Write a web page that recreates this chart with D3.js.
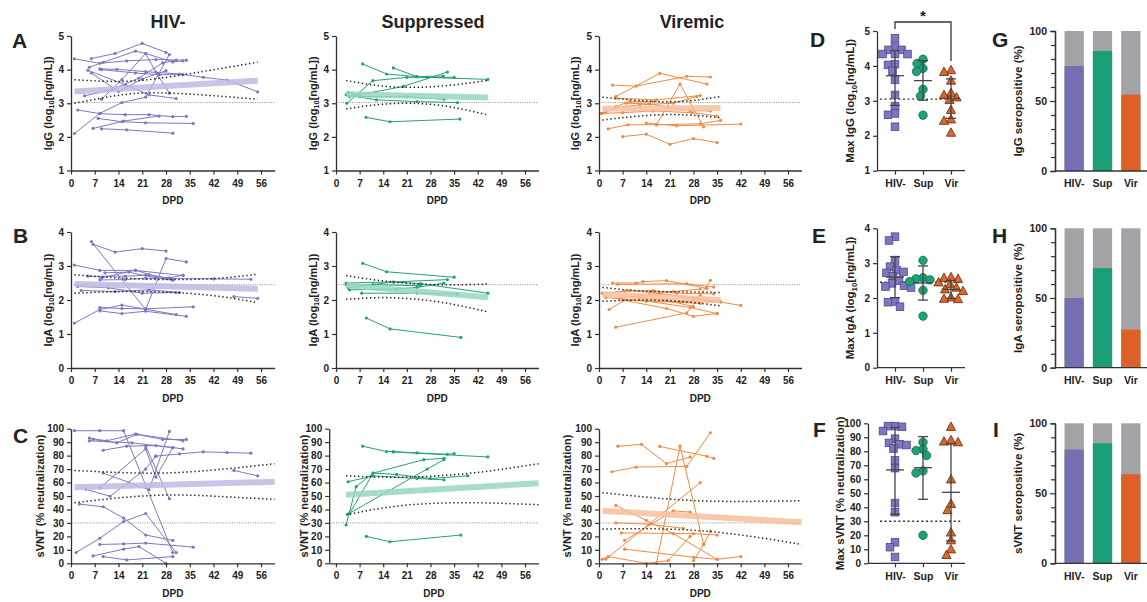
<!DOCTYPE html>
<html>
<head>
<meta charset="utf-8">
<script src="https://cdn.jsdelivr.net/npm/d3@7"></script>
<style>
  body { margin: 0; background: #fff; }
  svg text { font-family: "Liberation Sans", Arial, sans-serif; font-weight: bold; fill: #222; }
</style>
</head>
<body>
<svg id="chart" width="1147" height="602"></svg>
<script>
// ---- categories / ticks ----
const groups = ["HIV-", "Suppressed", "Viremic"];
const cats = ["HIV-", "Sup", "Vir"];
const dpdTicks = [0, 7, 14, 21, 28, 35, 42, 49, 56];
const iggTicks = [1, 2, 3, 4, 5];
const igaTicks = [0, 1, 2, 3, 4];
const svntTicks = [0, 10, 20, 30, 40, 50, 60, 70, 80, 90, 100];
const seroTicks = [0, 50, 100];
const seroMinor = [10, 20, 30, 40, 60, 70, 80, 90];

// cut-offs (dotted grey line)
const iggCut = 3.02, igaCut = 2.45, svntCut = 30;

// ---- IgG over time, [DPD, log10 ng/mL] per participant ----
const iggNeg = [
  [[6,4.33],[13,4.48],[21,4.78],[28,4.51]],
  [[5.4,4.07],[9.5,4.22],[19,4.55],[22,4.48],[30,4.23],[33,4.26]],
  [[1,4.32],[8.5,4.19],[16.4,4.26],[25,4.3],[34,4.28]],
  [[8.5,4.02],[13.5,4.01],[22,3.94],[32,3.87],[39,3.77],[46,3.69],[55,3.34]],
  [[5,3.98],[16,3.55],[23,3.25],[31,3.14]],
  [[9,3.12],[15,3.7],[22,4.48],[25,3.93],[29,3.3]],
  [[1,2.1],[8.5,2.7],[15,3.02],[22,3.18],[29,4.45]],
  [[2,2.8],[8.5,2.69],[16,2.66],[23,2.66],[30,2.6],[34,2.61]],
  [[8,2.55],[15,2.45],[22,2.42],[36,2.4]],
  [[6.5,2.25],[15.5,2.47],[26,2.62]],
  [[9,2.24],[16.4,2.21],[30,2.11]],
  [[4,3.22],[12,3.4],[20,3.75],[27,4.2],[31,4.28]],
  [[6,3.9],[14,3.35],[21,3.72],[28,3.97]],
  [[9,4.0],[19,3.9],[26,3.85],[33,3.85]]
];
const iggSup = [
  [[7.9,4.17],[15,3.87],[24,3.79],[31.8,3.81]],
  [[17,4.05],[24,3.79],[27,3.77],[35,3.77]],
  [[3.2,3.0],[10.9,3.67],[21,3.77],[27,3.77],[45,3.71]],
  [[4,3.2],[20,3.5],[33,3.93]],
  [[3.6,3.32],[7,3.2],[21,3.2],[32,3.12]],
  [[3,3.25],[12,3.1],[24,3.05],[36,3.02]],
  [[8.9,2.58],[16,2.45],[36.7,2.53]]
];
const iggVir = [
  [[4,3.54],[11,3.51],[26,3.8],[33,3.78]],
  [[5,3.2],[18,3.89],[32,3.57]],
  [[5,3.15],[17,3.1],[30,3.23]],
  [[0.5,2.7],[2,2.72],[5,2.9],[9,3.05],[16,3.05]],
  [[1,2.7],[7,2.72],[16,2.77],[27.5,2.72],[35,2.62]],
  [[2.7,2.24],[8.6,2.36],[17,2.36],[30,2.39],[36,2.49]],
  [[14,2.41],[23,2.33],[42,2.38]],
  [[17,2.36],[24,3.57],[31,2.3]],
  [[7,2.01],[14,2.08],[21,1.78],[28,1.95],[35,1.83]],
  [[5,2.88],[12,2.95],[22,3.0],[29,3.2]],
  [[8,3.0],[15,2.98],[27,2.78],[33,2.77]]
];

// ---- IgA over time ----
const igaNeg = [
  [[6,3.72],[22,1.72],[28,3.22],[34,3.12]],
  [[6.5,3.64],[13,3.41],[21,3.51],[28,3.44]],
  [[1,3.03],[8.5,2.87],[19,2.87],[33,2.72]],
  [[5,2.7],[16,2.7],[22,2.73],[29,2.65],[33,2.73]],
  [[8.5,2.59],[16,2.6],[22,2.64],[29,2.63],[42,2.62],[53,2.61]],
  [[9,2.65],[19,2.88],[23,2.75],[30,2.6]],
  [[2,2.4],[11,2.36],[21,2.2],[31,2.22]],
  [[3,2.28],[13,2.25],[23,2.3],[32,2.22]],
  [[1,1.32],[8.5,1.72],[15,1.85],[22,1.73],[31,1.57]],
  [[8.5,1.78],[15,1.75],[22,1.74],[36,1.8]],
  [[8.5,1.68],[15,1.6],[22,1.67],[34,1.52]],
  [[48,2.1],[55,2.05]],
  [[10,2.8],[17,2.82],[25,2.65],[30,2.58]]
];
const igaSup = [
  [[7.9,3.08],[15,2.83],[35,2.67]],
  [[3,2.5],[17,2.53],[33,2.6]],
  [[4,2.3],[18,2.32],[24,2.37],[32,2.5]],
  [[3.6,2.36],[17,2.53],[25,2.48],[45,2.2]],
  [[9,1.47],[16,1.15],[37,0.9]],
  [[7.6,2.2],[24,2.2],[36,2.18]],
  [[3,2.45],[11,2.45],[25,2.42]]
];
const igaVir = [
  [[4,2.5],[11,2.5],[13,2.54],[20,2.57],[32,2.34]],
  [[5.5,2.46],[26,2.48],[34,2.38]],
  [[1,2.2],[7.6,2.26],[16,2.28],[23,2.2],[34,2.18]],
  [[2,2.07],[14,1.97],[30,1.9]],
  [[3,1.72],[7.6,2.0],[14,1.97],[27,1.78],[35,1.6]],
  [[5,1.2],[26,1.62],[30,2.14],[33,2.58]],
  [[7,2.0],[20,1.75],[28,1.52],[35,1.6]],
  [[14,1.97],[36,1.94],[42,1.84]],
  [[9,2.28],[15,2.22],[22,2.25],[30,2.32]],
  [[6,2.05],[18,2.2],[28,2.05],[36,1.95]],
  [[12,2.05],[20,2.0],[28,1.8]]
];

// ---- sVNT over time (% neutralization) ----
const svntNeg = [
  [[1,98.5],[8.5,98.5],[15.5,98.5],[30,8]],
  [[5.4,93],[10.5,91],[19,96],[33,91]],
  [[6.5,92],[13.5,89.5],[19.5,95.8],[27,92],[34,92]],
  [[5.4,91],[18,89.5],[30,86]],
  [[9.5,84],[16.4,87],[25,87.5],[33,85]],
  [[25,79.6],[32,81.3],[39,82.8],[46,82.3],[53,81.8]],
  [[8.5,56],[22,85],[25,64],[30,86]],
  [[9.5,67],[23,54.7],[29,98]],
  [[4.4,55],[11.5,49.8],[22,70],[25,79.6]],
  [[22,87],[29,48]],
  [[48,69],[55,65]],
  [[2.5,44],[9.5,42],[15.5,33.6],[22,21],[30,17]],
  [[1.5,8],[8.5,18.6],[15.5,31],[22,37],[31,8]],
  [[8.5,14],[15.5,14.4],[22,15],[36,12]],
  [[6.5,5.5],[15.5,10.5],[20,12.5],[28,0]],
  [[9.5,5],[16.4,2.5],[30,5]]
];
const svntSup = [
  [[7.9,87],[15,83],[17,83],[24,82],[33,81],[35,81.5]],
  [[17,82.7],[45,79]],
  [[3,28.5],[6,57],[11,67],[26,77],[32,78]],
  [[3.6,36.6],[27,70],[32,77]],
  [[4,37],[11,67],[18,66],[28,63],[39,65]],
  [[3.6,60.6],[11,65],[24,63],[32,62]],
  [[9,20],[16,16],[37,21]]
];
const svntVir = [
  [[5.6,87],[12.6,88.3],[20,74],[27,79]],
  [[18,86.8],[32,79.5],[34,78]],
  [[3.8,68],[11,71.5],[26,72],[33,97]],
  [[2,3],[30,60]],
  [[17,0],[24,87],[31,14]],
  [[5,43],[14,32],[22,22],[35,3]],
  [[6.6,22.6],[28,22],[35,21]],
  [[7.6,17],[22,39],[27,38]],
  [[7.6,10.5],[28,4.5],[35,3],[42,5]],
  [[1,3],[2.7,5],[14,0],[20.5,2],[27,20]],
  [[28,2],[31,14],[33,24]],
  [[5,30],[15,29],[25,26]]
];

// ---- regression line and 95% band ----
const iggNegFit = [[1,3.35],[55,3.67]];
const iggNegUp = [[1,3.7],[15,3.65],[30,3.8],[55,4.22]];
const iggNegLo = [[1,3.0],[15,3.25],[30,3.3],[55,3.12]];
const iggSupFit = [[3,3.27],[45,3.17]];
const iggSupUp = [[3,3.68],[15,3.5],[30,3.5],[45,3.68]];
const iggSupLo = [[3,2.83],[15,2.98],[30,2.95],[45,2.65]];
const iggVirFit = [[1,2.84],[36,2.86]];
const iggVirUp = [[1,3.18],[12,3.08],[24,3.05],[36,3.2]];
const iggVirLo = [[1,2.5],[12,2.62],[24,2.66],[36,2.57]];

const igaNegFit = [[1,2.47],[55,2.33]];
const igaNegUp = [[1,2.74],[20,2.62],[40,2.62],[55,2.76]];
const igaNegLo = [[1,2.2],[20,2.25],[40,2.15],[55,1.92]];
const igaSupFit = [[3,2.43],[45,2.08]];
const igaSupUp = [[3,2.72],[15,2.55],[30,2.45],[45,2.47]];
const igaSupLo = [[3,2.02],[15,2.07],[30,1.95],[45,1.65]];
const igaVirFit = [[1,2.17],[36,2.0]];
const igaVirUp = [[1,2.37],[12,2.27],[24,2.24],[36,2.22]];
const igaVirLo = [[1,1.96],[12,2.0],[24,1.96],[36,1.83]];

const svntNegFit = [[1,56.5],[60,60.5]];
const svntNegUp = [[1,69],[25,67],[45,70],[60,74]];
const svntNegLo = [[1,45],[25,50.5],[45,49.5],[60,47.5]];
const svntSupFit = [[3,51],[60,59.5]];
const svntSupUp = [[3,65],[20,64],[40,67],[60,74]];
const svntSupLo = [[3,36],[20,43],[40,45],[60,43.5]];
const svntVirFit = [[1,39],[60,30.5]];
const svntVirUp = [[1,52.5],[25,47],[45,46],[60,46.5]];
const svntVirLo = [[1,25.5],[25,25],[45,20],[60,14]];

// ---- max values per participant ----
const maxIggNeg = [4.79,4.55,4.46,4.46,4.34,4.34,4.34,4.05,4.03,3.86,3.6,3.17,2.85,2.64,2.6,2.26];
const maxIggSup = [4.19,4.07,3.93,3.84,3.33,3.14,2.59];
const maxIggVir = [3.88,3.83,3.58,3.23,3.17,3.1,3.03,2.74,2.47,2.43,2.09];
const maxIgaNeg = [3.76,3.65,3.05,2.9,2.8,2.75,2.72,2.62,2.5,2.42,2.35,2.33,2.3,1.9,1.88,1.75];
const maxIgaSup = [3.08,2.58,2.55,2.52,2.47,2.22,1.48];
const maxIgaVir = [2.6,2.58,2.55,2.45,2.4,2.3,2.25,2.2,2.02,1.98,1.97];
const maxSvntNeg = [98,98,97.5,94.5,89,86,85,84.5,82,73.5,68,43,36.5,15,11.5,4.5];
const maxSvntSup = [86.5,81.5,80.5,77,66,64.5,20];
const maxSvntVir = [97.5,88,87,86.5,60,42.5,38,22,16.5,10,6];

// mean, lower SD, upper SD per group
const iggStats = [[3.72,2.87,4.44],[3.58,3.02,4.15],[3.07,2.5,3.63]];
const igaStats = [[2.6,2.01,3.19],[2.43,1.94,2.92],[2.25,1.99,2.5]];
const svntStats = [[66.7,35,97],[68.3,45.7,90.5],[50.7,16,85.2]];

// % seropositive
const iggSero = [75, 85.7, 54.5];
const igaSero = [50, 71.4, 27.3];
const svntSero = [81.25, 85.7, 63.6];

// ---- styles ----
const lineCol = { neg: "#7d78c1", sup: "#22a27b", vir: "#f08a40" };
const fitCol = { neg: "#bdbbe1", sup: "#98d6c0", vir: "#f6be9d" };
const barCol = ["#7570b3", "#1b9e77", "#dd6127"];
const markFill = ["#7c77bf", "#1ea07a", "#e0652a"];
const markStroke = ["#4b4790", "#12684f", "#5c2a0e"];

const svg = d3.select("#chart");
const fmt = d3.format("d");

function styleAxis(g, size) {
  g.select(".domain").attr("stroke", "#333").attr("stroke-width", 1.3);
  g.selectAll(".tick line").attr("stroke", "#333").attr("stroke-width", 1.2);
  g.selectAll(".tick text").style("font-size", size + "px").style("fill", "#222");
}

function yLabel(parts, cx, cy, size) {
  const t = svg.append("text")
    .attr("transform", `translate(${cx},${cy}) rotate(-90)`)
    .attr("text-anchor", "middle")
    .attr("y", size * 0.36)
    .style("font-size", size + "px");
  parts.forEach(p => {
    const s = t.append("tspan").text(p[0]);
    if (p[1] === "sub") s.attr("dy", 2.5).style("font-size", (size * 0.68) + "px");
    if (p[1] === "after") s.attr("dy", -2.5);
  });
}

const iggLab = [["IgG (log", ""], ["10", "sub"], ["[ng/mL])", "after"]];
const igaLab = [["IgA (log", ""], ["10", "sub"], ["[ng/mL])", "after"]];
const svntLab = [["sVNT (% neutralization)", ""]];

function linePanel(o) {
  const x = d3.scaleLinear().domain(o.xdom).range(o.xr);
  const y = d3.scaleLinear().domain(o.ydom).range(o.yr);
  const g = svg.append("g");
  const line = d3.line().x(d => x(d[0])).y(d => y(d[1]));
  const smooth = d3.line().curve(d3.curveNatural).x(d => x(d[0])).y(d => y(d[1]));

  g.append("line")
    .attr("x1", x(o.xdom[0])).attr("x2", x(60))
    .attr("y1", y(o.cut)).attr("y2", y(o.cut))
    .attr("stroke", "#8c8c8c").attr("stroke-width", 1).attr("stroke-dasharray", "1,1.3");

  g.selectAll("path.subj").data(o.lines).join("path")
    .attr("class", "subj").attr("d", line)
    .attr("fill", "none").attr("stroke", o.col).attr("stroke-width", 1);
  g.selectAll("circle").data(o.lines.flat()).join("circle")
    .attr("cx", d => x(d[0])).attr("cy", d => y(d[1])).attr("r", 1.6)
    .attr("fill", o.col);

  g.append("path").datum(o.fit).attr("d", line)
    .attr("fill", "none").attr("stroke", o.fitCol).attr("stroke-width", 6).attr("opacity", 0.85);

  [o.up, o.lo].forEach(b => {
    g.append("path").datum(b).attr("d", smooth)
      .attr("fill", "none").attr("stroke", "#222").attr("stroke-width", 1.5)
      .attr("stroke-dasharray", "1.4,2.6");
  });

  const ax = g.append("g").attr("transform", `translate(0,${o.yr[0]})`)
    .call(d3.axisBottom(x).tickValues(dpdTicks).tickSize(4).tickSizeOuter(0).tickPadding(5));
  styleAxis(ax, 10);
  const ay = g.append("g").attr("transform", `translate(${o.xr[0]},0)`)
    .call(d3.axisLeft(y).tickValues(o.yticks).tickFormat(fmt).tickSize(4).tickSizeOuter(0).tickPadding(3));
  styleAxis(ay, 10);

  svg.append("text").attr("x", (x(o.xdom[0]) + x(60)) / 2).attr("y", o.yr[0] + 33.5)
    .attr("text-anchor", "middle").style("font-size", "10px").text("DPD");
  yLabel(o.label, o.labX, (o.yr[0] + o.yr[1]) / 2, 11);
}

function swarm(vals, y, cx, d) {
  const pts = vals.map(v => ({ v, py: y(v) })).sort((a, b) => a.py - b.py);
  const placed = [];
  pts.forEach(p => {
    for (let k = 0; k < 400; k++) {
      const off = (k % 2 === 0 ? 1 : -1) * Math.ceil(k / 2) * 0.5;
      if (placed.every(q => (q.off - off) ** 2 + (q.py - p.py) ** 2 >= d * d)) { p.off = off; break; }
    }
    placed.push(p);
  });
  return pts.map(p => ({ v: p.v, px: cx + p.off, py: p.py }));
}

function dotPanel(o) {
  const y = d3.scaleLinear().domain(o.ydom).range(o.yr);
  const x = d3.scalePoint().domain(cats).range([895, 951]);
  const g = svg.append("g");

  g.append("line").attr("x1", 880).attr("x2", 962)
    .attr("y1", y(o.cut)).attr("y2", y(o.cut))
    .attr("stroke", "#333").attr("stroke-width", 1.4).attr("stroke-dasharray", "2,2.6");

  o.sets.forEach((vals, i) => {
    const pts = swarm(vals, y, x(cats[i]), 7);
    const sg = g.append("g");
    if (i === 0) {
      sg.selectAll("rect").data(pts).join("rect")
        .attr("x", d => d.px - 3.8).attr("y", d => d.py - 3.8).attr("width", 7.6).attr("height", 7.6)
        .attr("fill", markFill[i]).attr("stroke", markStroke[i]).attr("stroke-width", 0.8);
    } else if (i === 1) {
      sg.selectAll("circle").data(pts).join("circle")
        .attr("cx", d => d.px).attr("cy", d => d.py).attr("r", 4.2)
        .attr("fill", markFill[i]).attr("stroke", markStroke[i]).attr("stroke-width", 0.8);
    } else {
      sg.selectAll("path").data(pts).join("path")
        .attr("d", d => `M${d.px},${d.py - 4.8}L${d.px + 4.6},${d.py + 3.6}L${d.px - 4.6},${d.py + 3.6}Z`)
        .attr("fill", markFill[i]).attr("stroke", markStroke[i]).attr("stroke-width", 0.8);
    }
  });

  o.stats.forEach((s, i) => {
    const cx = x(cats[i]);
    const eg = g.append("g").attr("stroke", "#444").attr("stroke-width", 1.3);
    eg.append("line").attr("x1", cx).attr("x2", cx).attr("y1", y(s[1])).attr("y2", y(s[2]));
    eg.append("line").attr("x1", cx - 9).attr("x2", cx + 9).attr("y1", y(s[0])).attr("y2", y(s[0]));
    [s[1], s[2]].forEach(v => eg.append("line").attr("x1", cx - 5).attr("x2", cx + 5).attr("y1", y(v)).attr("y2", y(v)));
  });

  const ax = g.append("g").attr("transform", `translate(0,${o.yr[0]})`)
    .call(d3.axisBottom(x).tickSize(4).tickSizeOuter(0).tickPadding(5));
  ax.select(".domain").attr("d", `M${o.ax},0H965`);
  styleAxis(ax, 10.5);
  const ay = g.append("g").attr("transform", `translate(${o.ax},0)`)
    .call(d3.axisLeft(y).tickValues(o.yticks).tickFormat(fmt).tickSize(4).tickSizeOuter(0).tickPadding(3));
  styleAxis(ay, 10);
  yLabel(o.label, o.labX, (o.yr[0] + o.yr[1]) / 2, 11.5);
}

function barPanel(o) {
  const y = d3.scaleLinear().domain([0, 100]).range(o.yr);
  const x = d3.scaleBand().domain(cats).range([1060, 1145]).paddingInner(0.32).paddingOuter(0.16);
  const g = svg.append("g");
  g.selectAll("rect.bg").data(cats).join("rect").attr("class", "bg")
    .attr("x", d => x(d)).attr("width", x.bandwidth())
    .attr("y", y(100)).attr("height", y(0) - y(100)).attr("fill", "#a2a3a6");
  g.selectAll("rect.val").data(o.vals).join("rect").attr("class", "val")
    .attr("x", (d, i) => x(cats[i])).attr("width", x.bandwidth())
    .attr("y", d => y(d)).attr("height", d => y(0) - y(d)).attr("fill", (d, i) => barCol[i]);

  const ax = g.append("g").attr("transform", `translate(0,${o.yr[0]})`)
    .call(d3.axisBottom(x).tickSize(0).tickPadding(9));
  ax.select(".domain").attr("d", "M1055,0H1147");
  styleAxis(ax, 10.5);
  const aym = g.append("g").attr("transform", "translate(1055,0)")
    .call(d3.axisLeft(y).tickValues(seroMinor).tickSize(4).tickFormat(""));
  styleAxis(aym, 10);
  const ay = g.append("g").attr("transform", "translate(1055,0)")
    .call(d3.axisLeft(y).tickValues(seroTicks).tickSize(5).tickSizeOuter(0).tickPadding(3));
  styleAxis(ay, 10.5);
  yLabel([[o.label, ""]], 1018, (o.yr[0] + o.yr[1]) / 2, 11.5);
}

// ---- layout ----
const cols = [
  { key: "neg", xr: [71, 274.6], xdom: [0, 60], labA: 48, labC: 40 },
  { key: "sup", xr: [336, 538.5], xdom: [0, 60], labA: 313, labC: 304 },
  { key: "vir", xr: [599, 801.5], xdom: [0, 60], labA: 575, labC: 567 }
];
const rowDefs = [
  { yr: [170.5, 36], ydom: [1, 5], yticks: iggTicks, label: iggLab, cut: iggCut,
    lines: [iggNeg, iggSup, iggVir], fit: [iggNegFit, iggSupFit, iggVirFit],
    up: [iggNegUp, iggSupUp, iggVirUp], lo: [iggNegLo, iggSupLo, iggVirLo] },
  { yr: [368, 232], ydom: [0, 4], yticks: igaTicks, label: igaLab, cut: igaCut,
    lines: [igaNeg, igaSup, igaVir], fit: [igaNegFit, igaSupFit, igaVirFit],
    up: [igaNegUp, igaSupUp, igaVirUp], lo: [igaNegLo, igaSupLo, igaVirLo] },
  { yr: [563.3, 428.7], ydom: [0, 100], yticks: svntTicks, label: svntLab, cut: svntCut,
    lines: [svntNeg, svntSup, svntVir], fit: [svntNegFit, svntSupFit, svntVirFit],
    up: [svntNegUp, svntSupUp, svntVirUp], lo: [svntNegLo, svntSupLo, svntVirLo] }
];

rowDefs.forEach((r, ri) => {
  cols.forEach((c, ci) => {
    let xr = c.xr, xdom = c.xdom;
    if (ri === 2 && ci === 1) { xr = [329.2, 538.5]; xdom = [-2, 60]; }
    linePanel({
      xr, xdom, yr: r.yr, ydom: r.ydom, yticks: r.yticks, cut: r.cut,
      lines: r.lines[ci], fit: r.fit[ci], up: r.up[ci], lo: r.lo[ci],
      col: lineCol[c.key], fitCol: fitCol[c.key],
      label: r.label, labX: ri === 2 ? c.labC : c.labA
    });
  });
});

// column titles
[168, 433, 692].forEach((cx, i) => {
  svg.append("text").attr("x", cx).attr("y", 28).attr("text-anchor", "middle")
    .style("font-size", "18px").text(groups[i]);
});

dotPanel({ yr: [170.7, 31], ydom: [1, 5], yticks: iggTicks, ax: 877, cut: 3.05,
  sets: [maxIggNeg, maxIggSup, maxIggVir], stats: iggStats, labX: 850,
  label: [["Max IgG (log", ""], ["10", "sub"], ["[ng/mL])", "after"]] });
dotPanel({ yr: [367.7, 228.3], ydom: [0, 4], yticks: igaTicks, ax: 877, cut: igaCut,
  sets: [maxIgaNeg, maxIgaSup, maxIgaVir], stats: igaStats, labX: 850,
  label: [["Max IgA (log", ""], ["10", "sub"], ["[ng/mL])", "after"]] });
dotPanel({ yr: [563.3, 423.3], ydom: [0, 100], yticks: svntTicks, ax: 868, cut: svntCut,
  sets: [maxSvntNeg, maxSvntSup, maxSvntVir], stats: svntStats, labX: 840,
  label: [["Max sVNT (% neutralization)", ""]] });

// significance bracket HIV- vs Vir
svg.append("path").attr("d", "M895,29V22H951V61")
  .attr("fill", "none").attr("stroke", "#333").attr("stroke-width", 1.3);
svg.append("text").attr("x", 923).attr("y", 21).attr("text-anchor", "middle")
  .style("font-size", "15px").text("*");

barPanel({ yr: [171, 31], vals: iggSero, label: "IgG seropositive (%)" });
barPanel({ yr: [367.7, 228.3], vals: igaSero, label: "IgA seropositive (%)" });
barPanel({ yr: [563.3, 423.3], vals: svntSero, label: "sVNT seropositive (%)" });

// panel letters
const letters = [["A", 12, 48], ["B", 13, 243], ["C", 13, 443], ["D", 810, 47], ["E", 812, 243],
  ["F", 813, 437], ["G", 992, 47], ["H", 992, 243], ["I", 993, 437]];
letters.forEach(l => {
  svg.append("text").attr("x", l[1]).attr("y", l[2]).style("font-size", "21px").text(l[0]);
});
</script>
</body>
</html>
